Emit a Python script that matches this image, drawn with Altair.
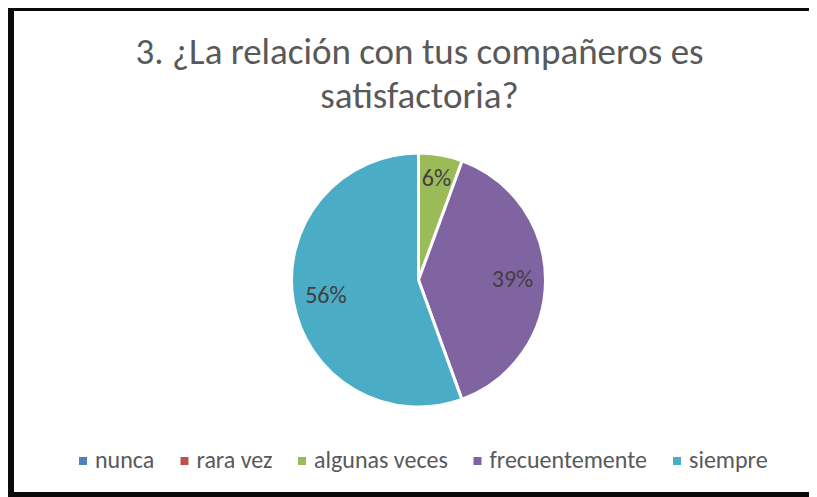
import altair as alt
import pandas as pd

categories = ["nunca", "rara vez", "algunas veces", "frecuentemente", "siempre"]
values = [0, 0, 5.6, 38.9, 55.6]
colors = ["#4F81BD", "#C0504D", "#9BBB59", "#8064A2", "#4BACC6"]
title_lines = ["3. ¿La relación con tus compañeros es", "satisfactoria?"]

total = sum(values)
df = pd.DataFrame({
    "cat": categories,
    "value": values,
    "idx": list(range(len(categories))),
    "label": [f"{round(v / total * 100)}%" for v in values],
})

W, H = 801, 489
CX, CY = 410.5, 272
FONT = "Carlito, Lato, sans-serif"
FRAME = "#0a0a0a"

base = alt.Chart(df).transform_filter("datum.value > 0")

pie = base.mark_arc(outerRadius=127, stroke="white", strokeWidth=3).encode(
    theta=alt.Theta("value:Q", stack=True),
    order=alt.Order("idx:Q"),
    color=alt.Color(
        "cat:N",
        scale=alt.Scale(domain=categories, range=colors),
        legend=alt.Legend(
            title=None, orient="none", legendX=63, legendY=441,
            direction="horizontal", symbolType="square", symbolSize=64,
            symbolStrokeWidth=0, labelFont=FONT, labelFontSize=24,
            labelColor="#595959", columnPadding=17.5, labelOffset=0, padding=0,
        ),
    ),
    x=alt.value(CX), y=alt.value(CY),
)

labels = base.mark_text(
    font=FONT, fontSize=24, color="#404040",
    radius=alt.expr("datum.idx == 2 ? 103 : 94"),
).encode(
    theta=alt.Theta("value:Q", stack=True),
    order=alt.Order("idx:Q"),
    text="label:N",
    x=alt.value(CX), y=alt.value(CY),
)

one = pd.DataFrame({"a": [0]})
title = alt.Chart(one).mark_text(
    text=title_lines, lineHeight=44, fontSize=37, font=FONT, color="#595959",
    align="center", baseline="alphabetic",
).encode(x=alt.value(411.5), y=alt.value(56))

top = alt.Chart(one).mark_rule(color=FRAME, strokeWidth=7).encode(
    x=alt.value(0), x2=alt.value(W), y=alt.value(-0.5))
left = alt.Chart(one).mark_rule(color=FRAME, strokeWidth=7).encode(
    x=alt.value(2.5), y=alt.value(0), y2=alt.value(H))
bottom = alt.Chart(one).mark_rule(color=FRAME, strokeWidth=5).encode(
    x=alt.value(0), x2=alt.value(W), y=alt.value(486.5))

chart = alt.layer(title, pie, labels, top, left, bottom).properties(
    width=W, height=H, padding=0,
    autosize=alt.AutoSizeParams(type="none"),
).configure_view(strokeWidth=0)

chart.save("out.html", embed_options={"renderer": "svg", "actions": False})
